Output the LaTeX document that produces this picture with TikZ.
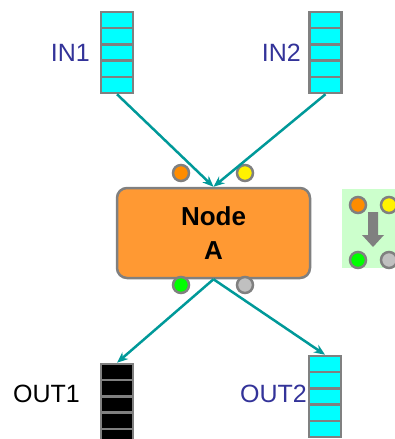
\documentclass[tikz,border=0pt]{standalone}
\usepackage{fontspec}
\setmainfont{Liberation Sans}
\usetikzlibrary{arrows.meta,positioning}
\definecolor{qcyan}{HTML}{00FFFF}
\definecolor{qgray}{HTML}{808080}
\definecolor{qblue}{HTML}{333399}
\definecolor{qteal}{HTML}{009999}
\definecolor{nodeorange}{HTML}{FF9933}
\definecolor{portorange}{HTML}{FF8C00}
\definecolor{portgray}{HTML}{C0C0C0}
\definecolor{legendbg}{HTML}{CCFFCC}
\begin{document}
\begin{tikzpicture}[x=1pt,y=-1pt,
	cell/.style={draw=qgray,line width=2.5pt,fill=qcyan,minimum width=32pt,minimum height=16.2pt,inner sep=0pt},
	blackcell/.style={cell,fill=black},
	qlabel/.style={inner sep=0pt,font=\fontsize{25}{28}\selectfont},
	port/.style={circle,draw=qgray,line width=2.5pt,minimum size=16pt,inner sep=0pt},
	link/.style={qteal,line width=2.5pt,-{Stealth[length=11pt,width=9pt]}}]
	\useasboundingbox (0,0) rectangle (394,439);
	\def\cs{16.2} % height of one cell
	% input and output queues
	\foreach \i in {0,...,4} {
		\node[cell] (in1-\i) at (117,12+\cs/2+\i*\cs) {};
		\node[cell] (in2-\i) at (325.5,12+\cs/2+\i*\cs) {};
		\node[blackcell] (out1-\i) at (117,364+\cs/2+\i*\cs) {};
		\node[cell] (out2-\i) at (325,356+\cs/2+\i*\cs) {};
	}
	\node[qlabel,text=qblue,anchor=east] (in1-lab) at (90,53) {IN1};
	\node[qlabel,text=qblue,anchor=east] (in2-lab) at (301,53) {IN2};
	\node[qlabel,anchor=east] (out1-lab) at (80,394) {OUT1};
	\node[qlabel,text=qblue,anchor=east] (out2-lab) at (307,394) {OUT2};
	% the node
	\node[draw=qgray,line width=2.5pt,fill=nodeorange,rounded corners=10pt,minimum width=193pt,minimum height=90pt,align=center,
		font=\fontsize{26}{34}\selectfont\bfseries] (nodeA) at (213.5,233) {Node\\A};
	\node[port,fill=portorange] (p-in1) at (181,173) {};
	\node[port,fill=yellow] (p-in2) at (245,173) {};
	\node[port,fill=green] (p-out1) at (181,285) {};
	\node[port,fill=portgray] (p-out2) at (245,285) {};
	\draw[link] (in1-4.south) -- (nodeA.north);
	\draw[link] (in2-4.south) -- (nodeA.north);
	\draw[link] (nodeA.south) -- (out1-0.north);
	\draw[link] (nodeA.south) -- (out2-0.north);
	% legend
	\fill[legendbg] (342,189) rectangle (410,268);
	\node[port,fill=portorange] (l-in1) at (358,205) {};
	\node[port,fill=yellow] (l-in2) at (389,205) {};
	\node[port,fill=green] (l-out1) at (358,260) {};
	\node[port,fill=portgray] (l-out2) at (389,260) {};
	\fill[qgray] (368,212) -- (378,212) -- (378,235) -- (384,235) -- (373,247) -- (362,235) -- (368,235) -- cycle;
\end{tikzpicture}
\end{document}
